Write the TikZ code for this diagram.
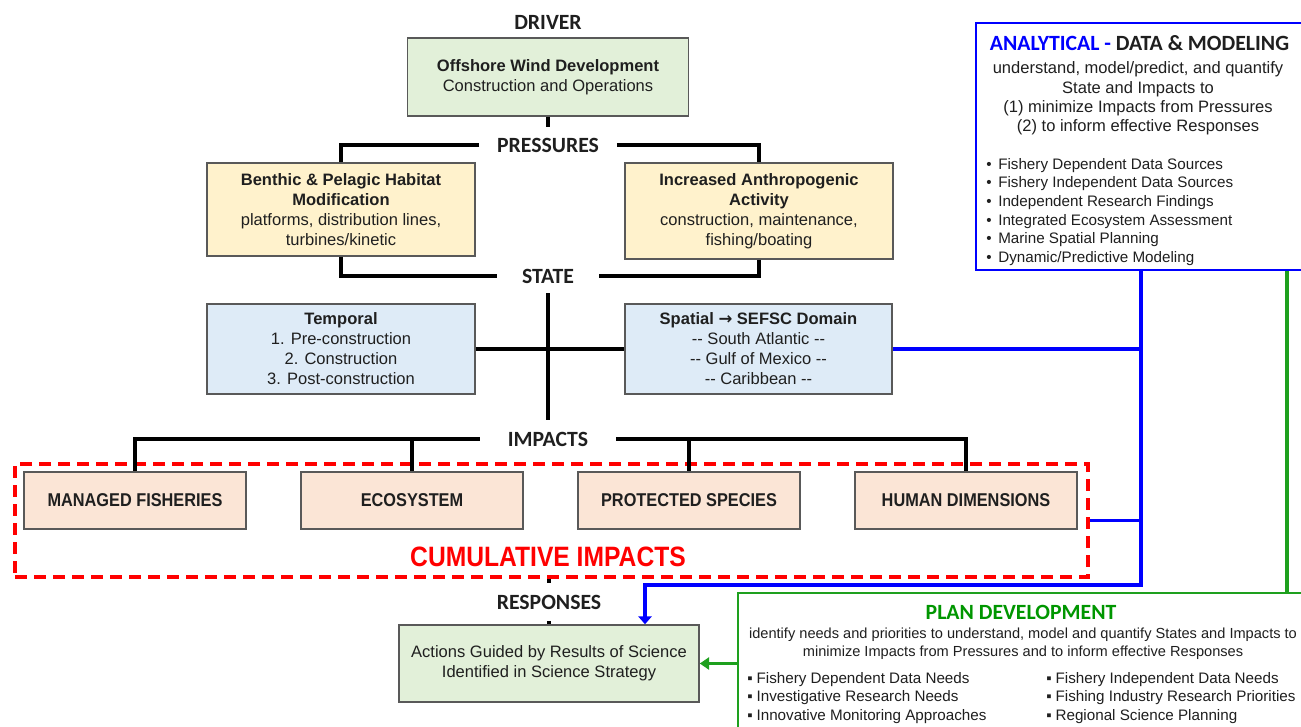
\documentclass[tikz,border=0pt]{standalone}
\usepackage{fontspec}
\setmainfont{Liberation Sans}
\newfontfamily\calib{Carlito}
\newfontfamily\dejavu{DejaVu Sans}
\newfontfamily\narrowf{Liberation Sans}[FakeStretch=0.88]
\usetikzlibrary{arrows.meta}
\definecolor{gfill}{HTML}{E2F0D9}
\definecolor{yfill}{HTML}{FFF2CC}
\definecolor{bfill}{HTML}{DEEBF7}
\definecolor{pfill}{HTML}{FBE5D6}
\definecolor{boxgray}{HTML}{595959}
\definecolor{txt}{HTML}{1F1F1F}
\definecolor{pgreen}{RGB}{0,150,0}
\definecolor{lgreen}{RGB}{30,160,30}
\definecolor{ablue}{RGB}{0,0,255}
\definecolor{cred}{RGB}{255,0,0}
\newcommand\bodyfont{\fontsize{12.4}{15}\selectfont}
\newcommand\lblfont{\calib\bfseries\fontsize{16.3}{19}\selectfont}
\newcommand\blt{\makebox[9pt][l]{•}}
\newcommand\pbl{\makebox[7pt][l]{▪}}
\begin{document}
\begin{tikzpicture}[x=0.75pt,y=-0.75pt,
  sz/.style 2 args={minimum width=#1*0.75pt, minimum height=#2*0.75pt},
  box/.style={draw=boxgray, line width=1.1pt, inner sep=0pt, align=center, font=\bodyfont, text=txt},
  lbl/.style={fill=white, inner sep=0pt, font=\lblfont, text=txt},
  conn/.style={line width=2.7pt, draw=black},
  impbox/.style={box, fill=pfill, sz={222}{57}, font=\narrowf\bfseries\fontsize{13.9}{16}\selectfont},
  bl/.style={line width=2.5pt, draw=ablue},
  gl/.style={line width=2.3pt, draw=lgreen},
]
\useasboundingbox (0,0) rectangle (1301,726);
\clip (0,0) rectangle (1301,726);

% driver
\node[inner sep=0, font=\lblfont, text=txt] (driverlbl) at (548,22) {DRIVER};
\node[box, fill=gfill, sz={281}{78}] (driver) at (548,77) {\textbf{Offshore Wind Development}\\Construction and Operations};
% pressures
\node[lbl, sz={137}{36}] (press) at (548,145) {PRESSURES};
\node[box, fill=yfill, sz={268}{93}] (benthic) at (341,209.5) {\textbf{Benthic \& Pelagic Habitat}\\\textbf{Modification}\\platforms, distribution lines,\\turbines/kinetic};
\node[box, fill=yfill, sz={268}{96}] (anthro) at (759,211) {\textbf{Increased Anthropogenic}\\\textbf{Activity}\\construction, maintenance,\\fishing/boating};
% state
\node[lbl, sz={101}{34}] (state) at (548,276) {STATE};
\node[box, fill=bfill, sz={268}{90}] (temporal) at (341,349) {\textbf{Temporal}\\1. Pre-construction\\2. Construction\\3. Post-construction};
\node[box, fill=bfill, sz={267}{90}] (spatial) at (758.5,349) {\textbf{Spatial {\dejavu\bfseries →} SEFSC Domain}\\-{}- South Atlantic -{}-\\-{}- Gulf of Mexico -{}-\\-{}- Caribbean -{}-};
% impacts
\node[lbl, sz={136}{38}] (impacts) at (548,439) {IMPACTS};
\node[draw=cred, dash pattern=on 9pt off 5.25pt, line width=2.5pt, sz={1073}{113}, inner sep=0] (cum) at (551.5,520.5) {};
\node[impbox] (mf) at (135,500.5) {MANAGED FISHERIES};
\node[impbox] (eco) at (412,500.5) {ECOSYSTEM};
\node[impbox] (ps) at (689,500.5) {PROTECTED SPECIES};
\node[impbox] (hd) at (966,500.5) {HUMAN DIMENSIONS};
\node[text=cred, font=\narrowf\bfseries\fontsize{21}{24}\selectfont, inner sep=0] (cumlbl) at (548,557) {CUMULATIVE IMPACTS};
% responses
\node[lbl, sz={136}{37}] (resp) at (549,602) {RESPONSES};
\node[box, fill=gfill, sz={300}{77}] (actions) at (549,663.5) {Actions Guided by Results of Science\\Identified in Science Strategy};

% analytical
\node[draw=ablue, line width=1.1pt, fill=white, sz={340}{247}, inner sep=0] (ana) at (1146,146.5) {};
\node[font=\lblfont, inner sep=0, text=txt] (anatitle) at (1139.5,43) {\textcolor{ablue}{ANALYTICAL -} DATA \& MODELING};
\node[font=\fontsize{12.4}{14.5}\selectfont, align=center, inner sep=0, text=txt] (anabody) at (1138,98.5) {understand, model/predict, and quantify\\State and Impacts to\\(1) minimize Impacts from Pressures\\(2) to inform effective Responses};
\node[font=\fontsize{11.4}{14}\selectfont, align=left, anchor=west, inner sep=0, text=txt] (anabul) at (986,212) {\blt Fishery Dependent Data Sources\\\blt Fishery Independent Data Sources\\\blt Independent Research Findings\\\blt Integrated Ecosystem Assessment\\\blt Marine Spatial Planning\\\blt Dynamic/Predictive Modeling};

% plan
\node[draw=lgreen, line width=1.3pt, fill=white, sz={578}{150}, inner sep=0] (plan) at (1027,668) {};
\node[font=\lblfont, text=pgreen, inner sep=0] (plantitle) at (1021,612) {PLAN DEVELOPMENT};
\node[font=\fontsize{10.95}{13.5}\selectfont, align=center, inner sep=0, text=txt] (planbody) at (1023,644) {identify needs and priorities to understand, model and quantify States and Impacts to\\minimize Impacts from Pressures and to inform effective Responses};
\node[font=\fontsize{11.4}{13.9}\selectfont, align=left, anchor=west, inner sep=0, text=txt] (planb1) at (747,698) {\pbl Fishery Dependent Data Needs\\\pbl Investigative Research Needs\\\pbl Innovative Monitoring Approaches};
\node[font=\fontsize{11.4}{13.9}\selectfont, align=left, anchor=west, inner sep=0, text=txt] (planb2) at (1046,698) {\pbl Fishery Independent Data Needs\\\pbl Fishing Industry Research Priorities\\\pbl Regional Science Planning};

% black connectors
\draw[conn] (driver.south) -- (press.north);
\draw[conn] (press.west) -| (benthic.north);
\draw[conn] (press.east) -| (anthro.north);
\draw[conn] (benthic.south) |- (state.west);
\draw[conn] (anthro.south) |- (state.east);
\draw[conn] (state.south) -- (impacts.north);
\draw[conn] (temporal.east) -- (spatial.west);
\draw[conn] (impacts.west) -| (mf.north);
\draw[conn] (impacts.west) -| (eco.north);
\draw[conn] (impacts.east) -| (ps.north);
\draw[conn] (impacts.east) -| (hd.north);
\draw[conn] (cum.south -| resp.north) -- (resp.north);
\draw[conn] (resp.south) -- (actions.north);

% blue connectors
\coordinate (bj) at (1141,585);
\coordinate (aj) at (645,585);
\draw[bl, -{Triangle[width=10pt,length=6pt]}] (ana.south -| bj) -- (bj) -- (aj) -- (actions.north -| aj);
\draw[bl] (spatial.east) -- (spatial.east -| bj);
\draw[bl] (cum.east) -- (cum.east -| bj);

% green connectors
\coordinate (gx) at (1287,400);
\draw[gl] (ana.south -| gx) -- (plan.north -| gx);
\draw[gl, -{Triangle[width=9pt,length=7pt]}] (plan.west |- actions.east) -- (actions.east);
\end{tikzpicture}
\end{document}
